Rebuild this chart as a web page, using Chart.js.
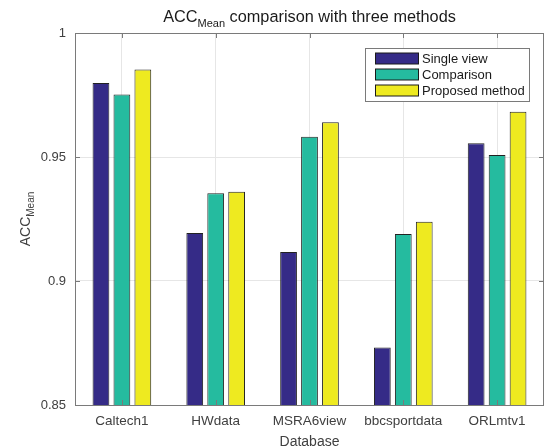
<!DOCTYPE html>
<html>
<head>
<meta charset="utf-8">
<script src="https://cdn.jsdelivr.net/npm/chart.js@4"></script>
<style>
  html, body { margin: 0; padding: 0; background: #fff; }
  #wrap { width: 548px; height: 448px; }
</style>
</head>
<body>
<div id="wrap"><canvas id="myChart" width="548" height="448"></canvas></div>
<script>
// данные с картинки
const databases = ['Caltech1', 'HWdata', 'MSRA6view', 'bbcsportdata', 'ORLmtv1'];
const singleView = [0.9798, 0.9194, 0.9117, 0.8732, 0.9555];
const comparison = [0.9752, 0.9354, 0.9582, 0.9190, 0.9508];
const proposed = [0.9853, 0.9360, 0.9640, 0.9239, 0.9682];
const yTicks = [0.85, 0.9, 0.95, 1];
const yTickLabels = ['0.85', '0.9', '0.95', '1'];

const FONT = '"Liberation Sans", Arial, Helvetica, sans-serif';
const AXIS_COLOR = '#7a7a7a';
const TEXT_COLOR = '#404040';

// текст с нижним индексом: ACC_Mean
function drawSub(ctx, x, y, main, sub, size, subSize, drop) {
    ctx.font = size + 'px ' + FONT;
    ctx.fillText(main, x, y);
    const w = ctx.measureText(main).width;
    ctx.font = subSize + 'px ' + FONT;
    ctx.fillText(sub, x + w, y + drop);
    return w + ctx.measureText(sub).width;
}

function subWidth(ctx, main, sub, size, subSize) {
    ctx.font = size + 'px ' + FONT;
    const w = ctx.measureText(main).width;
    ctx.font = subSize + 'px ' + FONT;
    return w + ctx.measureText(sub).width;
}

// заголовок, подпись оси Y, рамка, легенда
const matlabLook = {
    id: 'matlabLook',
    afterDraw(chart) {
        const ctx = chart.ctx;
        const a = chart.chartArea;
        const xs = chart.scales.x;
        const ys = chart.scales.y;
        ctx.save();

        // рамка вокруг области
        ctx.strokeStyle = AXIS_COLOR;
        ctx.lineWidth = 1;
        ctx.strokeRect(Math.round(a.left) + 0.5, Math.round(a.top) + 0.5,
            Math.round(a.right - a.left) - 1, Math.round(a.bottom - a.top));

        // внутренние засечки
        ctx.beginPath();
        xs.ticks.forEach((t, i) => {
            const px = Math.round(xs.getPixelForTick(i)) + 0.5;
            ctx.moveTo(px, a.top); ctx.lineTo(px, a.top + 5);
            ctx.moveTo(px, a.bottom); ctx.lineTo(px, a.bottom - 5);
        });
        ys.ticks.forEach((t, i) => {
            const py = Math.round(ys.getPixelForTick(i)) + 0.5;
            ctx.moveTo(a.left, py); ctx.lineTo(a.left + 5, py);
            ctx.moveTo(a.right, py); ctx.lineTo(a.right - 5, py);
        });
        ctx.stroke();

        // заголовок
        ctx.fillStyle = '#1a1a1a';
        ctx.textBaseline = 'alphabetic';
        ctx.textAlign = 'left';
        const cx = (a.left + a.right) / 2;
        const rest = ' comparison with three methods';
        const w1 = subWidth(ctx, 'ACC', 'Mean', 16.3, 11);
        ctx.font = '16.3px ' + FONT;
        const w2 = ctx.measureText(rest).width;
        let tx = cx - (w1 + w2) / 2;
        tx += drawSub(ctx, tx, 21.5, 'ACC', 'Mean', 16.3, 11, 5);
        ctx.font = '16.3px ' + FONT;
        ctx.fillText(rest, tx, 21.5);

        // подпись оси Y
        ctx.fillStyle = TEXT_COLOR;
        const cy = (a.top + a.bottom) / 2;
        const wy = subWidth(ctx, 'ACC', 'Mean', 14, 10);
        ctx.translate(30, cy);
        ctx.rotate(-Math.PI / 2);
        drawSub(ctx, -wy / 2, 0, 'ACC', 'Mean', 14, 10, 4);
        ctx.setTransform(1, 0, 0, 1, 0, 0);

        // легенда
        const lx = 365.5, ly = 48.5, lw = 164, lh = 53;
        ctx.fillStyle = '#fff';
        ctx.fillRect(lx, ly, lw, lh);
        ctx.strokeStyle = AXIS_COLOR;
        ctx.strokeRect(lx, ly, lw, lh);
        ctx.font = '13px ' + FONT;
        ctx.textBaseline = 'middle';
        chart.data.datasets.forEach((ds, i) => {
            const ry = 58.5 + i * 16;
            ctx.fillStyle = ds.backgroundColor;
            ctx.fillRect(375.5, ry - 5.5, 43, 11);
            ctx.strokeStyle = '#1a1a1a';
            ctx.strokeRect(375.5, ry - 5.5, 43, 11);
            ctx.fillStyle = '#1a1a1a';
            ctx.fillText(ds.label, 422, ry + 0.5);
        });
        ctx.restore();
    }
};

const ctx = document.getElementById('myChart').getContext('2d');
const myChart = new Chart(ctx, {
    type: 'bar',
    data: {
        labels: databases,
        datasets: [
            { label: 'Single view', data: singleView, backgroundColor: '#352b87' },
            { label: 'Comparison', data: comparison, backgroundColor: '#25bb9f' },
            { label: 'Proposed method', data: proposed, backgroundColor: '#eeea20' }
        ]
    },
    options: {
        responsive: false,
        animation: false,
        devicePixelRatio: 1,
        layout: { padding: { top: 33, right: 4, left: 0, bottom: 0 } },
        datasets: {
            bar: {
                categoryPercentage: 0.67,
                barPercentage: 0.8,
                borderColor: '#222',
                borderWidth: 1,
                borderSkipped: false
            }
        },
        plugins: {
            legend: { display: false },
            title: { display: false },
            tooltip: { enabled: false }
        },
        scales: {
            x: {
                grid: { offset: false, color: '#e6e6e6', drawTicks: false },
                border: { display: false },
                ticks: {
                    color: TEXT_COLOR,
                    font: { family: FONT, size: 13.5 },
                    padding: 8,
                    maxRotation: 0
                },
                title: {
                    display: true,
                    text: 'Database',
                    color: TEXT_COLOR,
                    font: { family: FONT, size: 14 },
                    padding: { top: 0, bottom: -3 }
                },
                afterFit(scale) { scale.height = 43; }
            },
            y: {
                min: 0.85,
                max: 1,
                grid: { color: '#e6e6e6', drawTicks: false },
                border: { display: false },
                afterBuildTicks(scale) {
                    scale.ticks = yTicks.map(v => ({ value: v }));
                },
                ticks: {
                    color: TEXT_COLOR,
                    font: { family: FONT, size: 13 },
                    padding: 9,
                    callback: (v, i) => yTickLabels[i]
                },
                afterFit(scale) { scale.width = 75; }
            }
        }
    },
    plugins: [matlabLook]
});
</script>
</body>
</html>
